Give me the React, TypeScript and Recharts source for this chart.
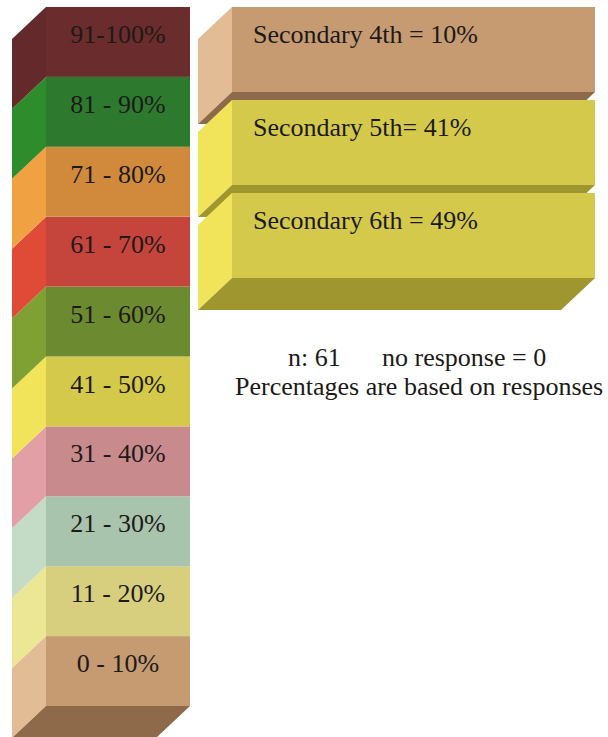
import React from 'react';
import { BarChart, Bar, XAxis, YAxis } from 'recharts';

// percentage scale, bottom to top
const RANGE_LABELS = ['0 - 10%', '11 - 20%', '21 - 30%', '31 - 40%', '41 - 50%', '51 - 60%', '61 - 70%', '71 - 80%', '81 - 90%', '91-100%'];
const RANGE_SPAN = [10, 10, 10, 10, 10, 10, 10, 10, 10, 10];

const RANGE_FRONT = ['#c69b72', '#d7cf7e', '#a9c4ad', '#c98a8e', '#d5c94c', '#6c8a30', '#c5443c', '#d18a3c', '#2d7a2f', '#6b2c2e'];
const RANGE_SIDE = ['#e2bc94', '#ece795', '#c4dcc6', '#e2a0a6', '#f2e45a', '#7fa032', '#e04b38', '#f0a243', '#2f8c2d', '#642a2b'];
const RANGE_SHADE = ['#8e6a4a', '#a49c48', '#7d9a82', '#9a5e62', '#a09630', '#4f6620', '#8e2c26', '#9a6024', '#1e5620', '#4a1c1e'];

// survey answers
const GRADES = ['Secondary 4th', 'Secondary 5th', 'Secondary 6th'];
const GRADE_PCT = [10, 41, 49];
const GRADE_SEP = [' = ', '= ', ' = '];

const RESPONSES = 61;
const NO_RESPONSE = 0;

const FONT = "'Liberation Serif', 'Times New Roman', serif";
const FONT_SIZE = 26;
const DX = 34;
const DY = 32;

const scaleRow: Record<string, number | string> = { name: 'scale' };
RANGE_SPAN.forEach((v, i) => { scaleRow[`r${i}`] = v; });
const scaleData = [scaleRow];

const gradeData = GRADES.map((grade, i) => ({ grade, pct: GRADE_PCT[i], label: `${grade}${GRADE_SEP[i]}${GRADE_PCT[i]}%` }));

const rangeIndex = (pct: number) => (pct <= 10 ? 0 : Math.min(9, Math.floor((pct - 1) / 10)));

const scaleBlock = (i: number) => (props: any) => {
  const { x, y, width, height } = props;
  const bottom = y + height;
  return (
    <g>
      <polygon points={`${x},${y} ${x},${bottom} ${x - DX},${bottom + DY} ${x - DX},${y + DY}`} fill={RANGE_SIDE[i]} />
      {i === 0 && (
        <polygon
          points={`${x},${bottom} ${x + width},${bottom} ${x + width - DX},${bottom + DY} ${x - DX},${bottom + DY}`}
          fill={RANGE_SHADE[i]}
        />
      )}
      <rect x={x} y={y} width={width} height={height} fill={RANGE_FRONT[i]} />
      <text x={x + width / 2} y={y + 36} textAnchor="middle" fontFamily={FONT} fontSize={FONT_SIZE} fill="#1c1a18">
        {RANGE_LABELS[i]}
      </text>
    </g>
  );
};

const GradeBlock = (props: any) => {
  const { y, height, background, payload } = props;
  const fx = background ? background.x : props.x;
  const w = background ? background.width : props.width;
  const h = height - 8;
  const bottom = y + h;
  const r = rangeIndex(payload.pct);
  return (
    <g>
      <polygon points={`${fx},${y} ${fx},${bottom} ${fx - DX},${bottom + DY} ${fx - DX},${y + DY}`} fill={RANGE_SIDE[r]} />
      <polygon
        points={`${fx},${bottom} ${fx + w},${bottom} ${fx + w - DX},${bottom + DY} ${fx - DX},${bottom + DY}`}
        fill={RANGE_SHADE[r]}
      />
      <rect x={fx} y={y} width={w} height={h} fill={RANGE_FRONT[r]} />
      <text x={fx + 21} y={y + 36} fontFamily={FONT} fontSize={FONT_SIZE} fill="#1c1a18">
        {payload.label}
      </text>
    </g>
  );
};

export default function App() {
  return (
    <div style={{ position: 'absolute', left: 0, top: 0, width: 608, height: 737, background: '#fff', overflow: 'hidden' }}>
      <div style={{ position: 'absolute', left: 0, top: 0 }}>
        <BarChart width={200} height={737} data={scaleData} margin={{ top: 7, right: 10, bottom: 31, left: 46 }} barCategoryGap={0}>
          <XAxis dataKey="name" hide />
          <YAxis hide domain={[0, 100]} />
          {RANGE_SPAN.map((_, i) => (
            <Bar key={i} dataKey={`r${i}`} stackId="scale" isAnimationActive={false} shape={scaleBlock(i)} />
          ))}
        </BarChart>
      </div>
      <div style={{ position: 'absolute', left: 190, top: 0 }}>
        <BarChart layout="vertical" width={418} height={330} data={gradeData} margin={{ top: 7, right: 13, bottom: 44, left: 42 }} barCategoryGap={0}>
          <XAxis type="number" hide domain={[0, 100]} />
          <YAxis type="category" dataKey="grade" hide />
          <Bar dataKey="pct" isAnimationActive={false} shape={GradeBlock} />
        </BarChart>
      </div>
      <svg width={608} height={737} style={{ position: 'absolute', left: 0, top: 0, pointerEvents: 'none' }}>
        <text x={288} y={366} fontFamily={FONT} fontSize={FONT_SIZE} fill="#1c1a18">{`n: ${RESPONSES}`}</text>
        <text x={382} y={366} fontFamily={FONT} fontSize={FONT_SIZE} fill="#1c1a18">{`no response = ${NO_RESPONSE}`}</text>
        <text x={235} y={395} fontFamily={FONT} fontSize={FONT_SIZE} fill="#1c1a18">
          Percentages are based on responses
        </text>
      </svg>
    </div>
  );
}
